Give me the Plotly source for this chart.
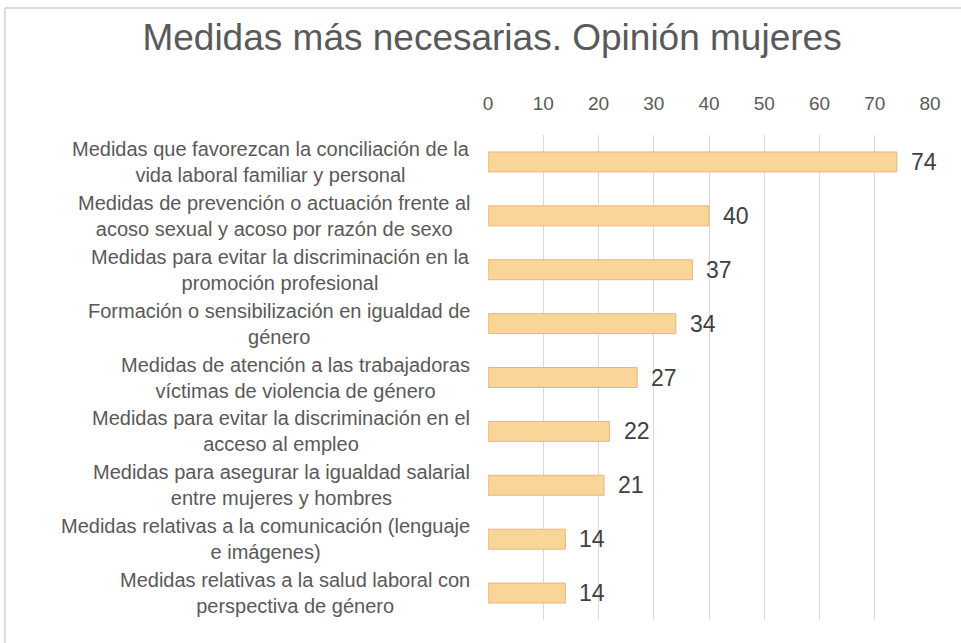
import plotly.graph_objects as go

# Datos
categorias = [
    "Medidas que favorezcan la conciliación de la<br>vida laboral familiar y personal",
    "Medidas de prevención o actuación frente al<br>acoso sexual y acoso por razón de sexo",
    "Medidas para evitar la discriminación en la<br>promoción profesional",
    "Formación o sensibilización en igualdad de<br>género",
    "Medidas de atención a las trabajadoras<br>víctimas de violencia de género",
    "Medidas para evitar la discriminación en el<br>acceso al empleo",
    "Medidas para asegurar la igualdad salarial<br>entre mujeres y hombres",
    "Medidas relativas a la comunicación (lenguaje<br>e imágenes)",
    "Medidas relativas a la salud laboral con<br>perspectiva de género",
]
valores = [74, 40, 37, 34, 27, 22, 21, 14, 14]
ticks_x = [0, 10, 20, 30, 40, 50, 60, 70, 80]

fuente = "Liberation Sans, Arial, sans-serif"
gris = "#595959"

fig = go.Figure()
fig.add_trace(go.Bar(
    x=valores,
    y=list(range(len(categorias))),
    orientation="h",
    width=0.37,
    marker=dict(color="#F9D597", line=dict(color="#E6B877", width=1)),
    hoverinfo="x",
))

# etiquetas de categoría centradas en bloque
for i, c in enumerate(categorias):
    fig.add_annotation(
        x=0, y=i, xref="x", yref="y",
        text=c, showarrow=False,
        xanchor="right", yanchor="middle", xshift=-16,
        align="center",
        font=dict(family=fuente, size=20, color=gris),
    )

# etiquetas de datos
for i, v in enumerate(valores):
    fig.add_annotation(
        x=v, y=i, xref="x", yref="y",
        text=str(v), showarrow=False,
        xanchor="left", yanchor="middle", xshift=12,
        font=dict(family=fuente, size=23, color="#404040"),
    )

# marco del gráfico (solo visible arriba e izquierda)
fig.add_shape(type="line", xref="paper", yref="paper",
              x0=-1.093, x1=1.2, y0=1.262, y1=1.262,
              line=dict(color="#D9D9D9", width=2))
fig.add_shape(type="line", xref="paper", yref="paper",
              x0=-1.093, x1=-1.093, y0=1.262, y1=-0.1,
              line=dict(color="#D9D9D9", width=2))

fig.update_layout(
    width=961, height=643,
    margin=dict(l=488, r=31, t=135, b=23),
    paper_bgcolor="white", plot_bgcolor="white",
    showlegend=False,
    title=dict(text="Medidas más necesarias. Opinión mujeres",
               x=0.512, xref="container", xanchor="center",
               y=0.943, yref="container", yanchor="middle",
               font=dict(family=fuente, size=37, color=gris)),
    xaxis=dict(
        side="top", range=[0, 80], tickvals=ticks_x,
        showgrid=True, gridcolor="#D9D9D9", gridwidth=1,
        zeroline=False, showline=False, ticks="",
        tickfont=dict(family=fuente, size=19, color=gris),
        ticklabelstandoff=20,
    ),
    yaxis=dict(
        range=[8.5, -0.5], showticklabels=False, showgrid=False,
        zeroline=False, showline=False, ticks="",
    ),
    font=dict(family=fuente),
)

fig.write_html("out.html", config={"displayModeBar": False},
               post_script="document.body.style.margin='0px';")
